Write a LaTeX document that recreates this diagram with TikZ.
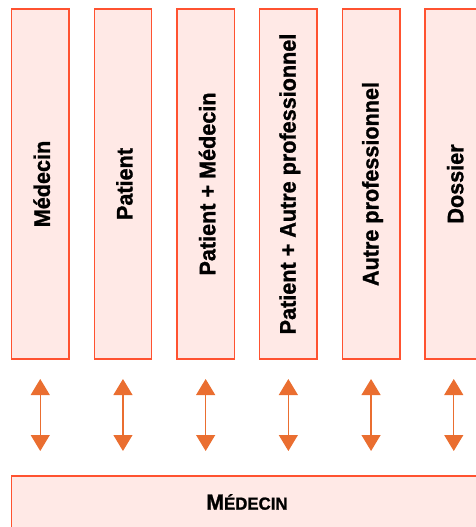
\documentclass[tikz,border=0pt]{standalone}
\usepackage{fontspec}
\setmainfont[BoldFeatures={FakeStretch=0.96,FakeBold=1.2}]{Liberation Sans}
\usetikzlibrary{arrows.meta}
\definecolor{boxline}{HTML}{FF5230}
\definecolor{boxfill}{HTML}{FFE9E6}
\definecolor{arrowc}{HTML}{EA6E30}
\tikzset{
  colbox/.style={draw=boxline, fill=boxfill, line width=1.4pt, minimum width=57.5pt, minimum height=350pt, inner sep=0pt, outer sep=0pt},
  collabel/.style={rotate=90, font=\fontsize{22.5}{25}\selectfont\bfseries, inner sep=0pt},
  basebox/.style={draw=boxline, fill=boxfill, line width=1.4pt, minimum width=471.5pt, minimum height=52pt, inner sep=0pt, outer sep=0pt},
  link/.style={draw=arrowc, line width=1.2pt, {Triangle[width=19pt,length=16pt]}-{Triangle[width=19pt,length=16pt]}}
}
\begin{document}
\begin{tikzpicture}[x=1pt,y=-1pt]
\useasboundingbox (0,0) rectangle (475,527);
\foreach \i/\t in {1/Médecin,2/Patient,3/Patient + Médecin,4/Patient + Autre professionnel,5/Autre professionnel,6/Dossier}{
  \pgfmathsetmacro{\cx}{40.25+82.7*(\i-1)}
  \node[colbox] (box\i) at (\cx,184) {};
  \node[collabel] (lab\i) at (\cx+1.5,184) {\t};
  \coordinate (top\i) at (\cx,379);
  \coordinate (bot\i) at (\cx,451);
  \draw[link] (top\i) -- (bot\i);
}
\node[basebox] (base) at (247.25,502) {};
\node[font=\bfseries, inner sep=0pt] (baselab) at (247,502) {\fontsize{22}{24}\selectfont M\fontsize{17.5}{20}\selectfont ÉDECIN};
\end{tikzpicture}
\end{document}
